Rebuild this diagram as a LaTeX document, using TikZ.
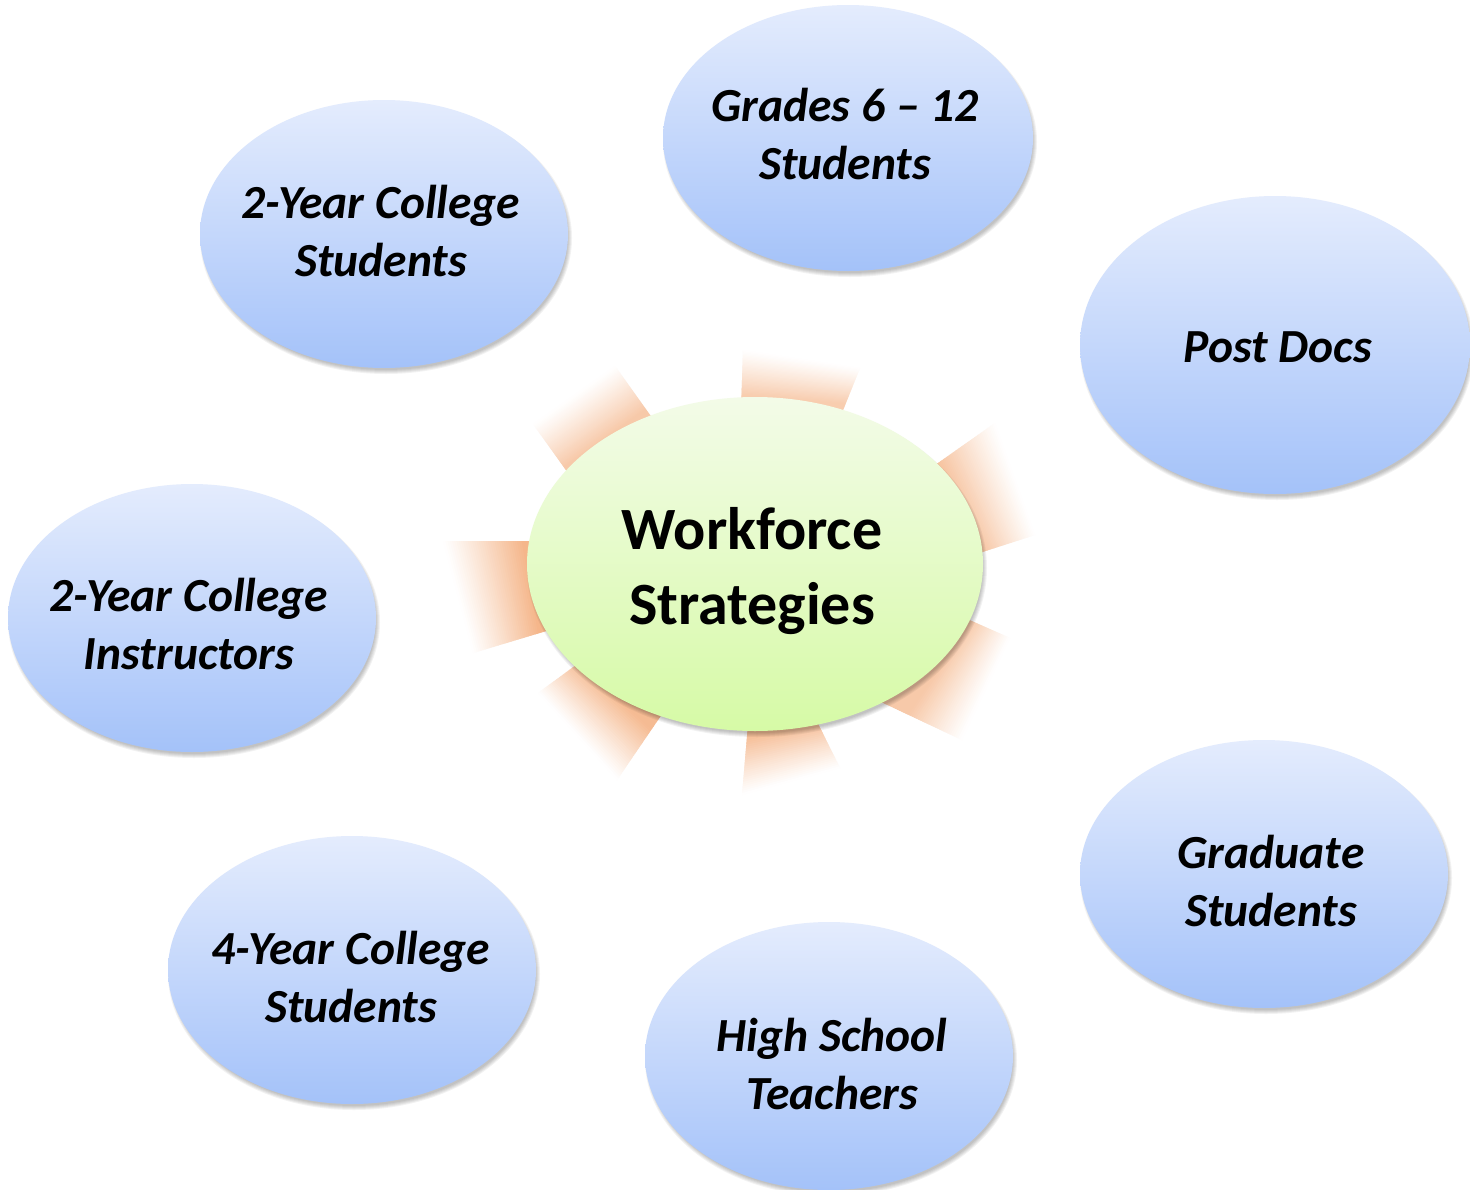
\documentclass[tikz,border=0pt]{standalone}
\usepackage{fontspec}
\setmainfont{Carlito}
\usetikzlibrary{calc,shapes.geometric}
\definecolor{bluetop}{RGB}{228,236,253}
\definecolor{bluebot}{RGB}{164,194,249}
\definecolor{greentop}{RGB}{243,251,232}
\definecolor{greenbot}{RGB}{214,250,166}
\definecolor{rayc}{RGB}{244,178,132}
\tikzset{
  bubble/.style={ellipse, inner sep=0pt, draw=none, top color=bluetop, bottom color=bluebot},
  hub/.style={ellipse, inner sep=0pt, draw=none, top color=greentop, bottom color=greenbot},
  btext/.style={inner sep=0pt, align=center, font=\fontsize{47.5}{58}\selectfont\bfseries\itshape},
  htext/.style={inner sep=0pt, align=center, font=\fontsize{60}{75}\selectfont\bfseries},
}
% #1,#2 inner corners; #3,#4 outer corners; #5 start of fade; #6 strength
\newcommand\sunray[6]{%
  \foreach \i in {0,...,69}{%
    \pgfmathsetmacro\sa{\i/70}%
    \pgfmathsetmacro\sb{min((\i+1.6)/70,1)}%
    \pgfmathsetmacro\sm{(\i+0.5)/70}%
    \pgfmathsetmacro\pc{\sm<#5 ? #6 : #6*((1-\sm)/(1-#5))^1.1}%
    \fill[rayc!\pc!white] ($(#1)!\sa!(#3)$) -- ($(#1)!\sb!(#3)$) -- ($(#2)!\sb!(#4)$) -- ($(#2)!\sa!(#4)$) -- cycle;
  }}
\newcommand\bubshadow[4]{%
  \foreach \k in {0,...,4}{%
    \fill[black,opacity=0.05] (#1+2,#2+4) ellipse [x radius={(#3+\k-2)*1pt}, y radius={(#4+\k-2)*1pt}];
  }}
\begin{document}
\begin{tikzpicture}[x=1pt,y=-1pt]
\useasboundingbox (0,0) rectangle (1470,1189);
\fill[white] (0,0) rectangle (1470,1189);
% rays
\sunray{740,440}{831,440}{743,350}{860,368}{0.5}{65}
\sunray{665,436}{583,494}{615,366}{533,424}{0.38}{70}
\sunray{891,496}{936,567}{995,423}{1035,535}{0.45}{78}
\sunray{600,541}{603,614}{443,541}{473,653}{0.49}{95}
\sunray{913,595}{828,677}{1010,638}{962,740}{0.6}{70}
\sunray{640,618}{703,654}{538,693}{617,780}{0.6}{88}
\sunray{755,642}{780,647}{742,795}{840,768}{0.63}{82}
% hub
\bubshadow{755}{564}{228}{167}
\node[hub, minimum width=456pt, minimum height=334pt] (hub) at (755,564) {};
\node[htext] (hubT) at (752,571) {Workforce\\Strategies};
% bubbles
\bubshadow{848}{138}{185}{133}
\node[bubble, minimum width=370pt, minimum height=266pt] (g612) at (848,138) {};
\node[btext] (g612T) at (845,134) {Grades 6 -- 12\\Students};

\bubshadow{384}{234}{184}{134}
\node[bubble, minimum width=368pt, minimum height=268pt] (c2s) at (384,234) {};
\node[btext] (c2sT) at (381,231) {2-Year College\\Students};

\bubshadow{1275}{345}{195}{149}
\node[bubble, minimum width=390pt, minimum height=298pt] (pd) at (1275,345) {};
\node[btext] (pdT) at (1278,347) {Post Docs};

\bubshadow{192}{618}{184}{134}
\node[bubble, minimum width=368pt, minimum height=268pt] (c2i) at (192,618) {};
\node[btext] (c2iT) at (189,624) {2-Year College\\Instructors};

\bubshadow{1264}{874}{184}{134}
\node[bubble, minimum width=368pt, minimum height=268pt] (gs) at (1264,874) {};
\node[btext] (gsT) at (1271,881) {Graduate\\Students};

\bubshadow{352}{970}{184}{134}
\node[bubble, minimum width=368pt, minimum height=268pt] (c4s) at (352,970) {};
\node[btext] (c4sT) at (351,977) {4-Year College\\Students};

\bubshadow{829}{1056}{184}{134}
\node[bubble, minimum width=368pt, minimum height=268pt] (hst) at (829,1056) {};
\node[btext] (hstT) at (832,1064) {High School\\Teachers};
\end{tikzpicture}
\end{document}
